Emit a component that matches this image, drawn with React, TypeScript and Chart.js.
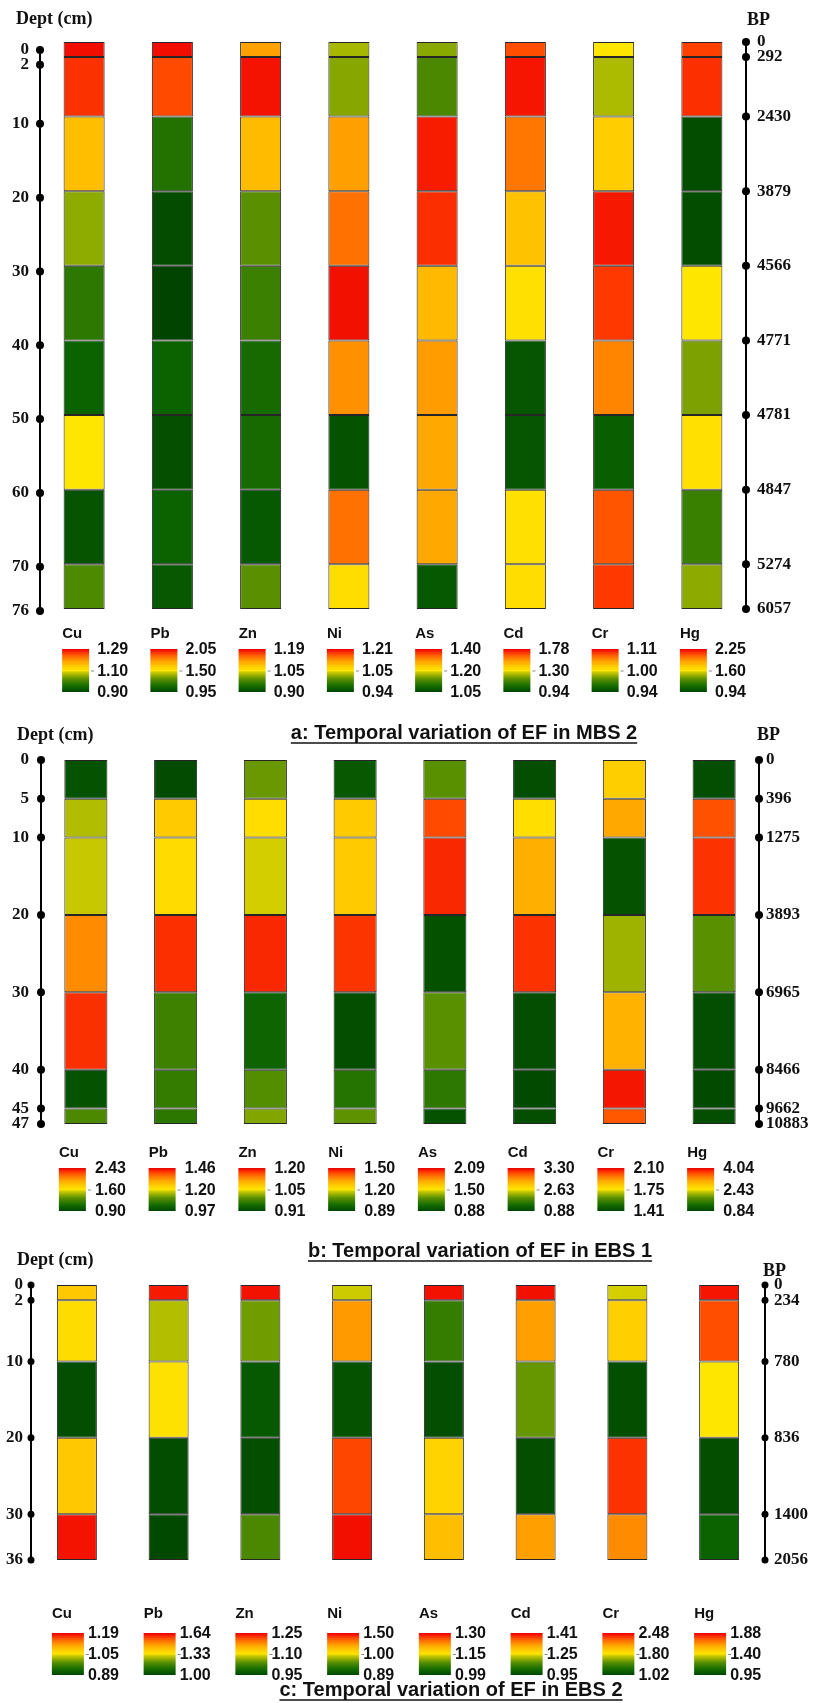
import React, { useEffect, useRef } from 'react';
import { Chart, registerables } from 'chart.js';

Chart.register(...registerables);

// Elements shown as columns in every core
const ELEMENTS = ['Cu', 'Pb', 'Zn', 'Ni', 'As', 'Cd', 'Cr', 'Hg'];

// ---- MBS 2 ----
const MBS2_DEPTH = [0, 2, 10, 20, 30, 40, 50, 60, 70, 76];
const MBS2_BP = ['0', '292', '2430', '3879', '4566', '4771', '4781', '4847', '5274', '6057'];
const MBS2_LOW = [0.9, 0.95, 0.9, 0.94, 1.05, 0.94, 0.94, 0.94];
const MBS2_MID = [1.1, 1.5, 1.05, 1.05, 1.2, 1.3, 1.0, 1.6];
const MBS2_HIGH = [1.29, 2.05, 1.19, 1.21, 1.4, 1.78, 1.11, 2.25];
// EF per element (rows) for each depth interval, top to bottom
const MBS2_EF = [
  [1.28, 1.26, 1.15, 1.05, 0.98, 0.94, 1.1, 0.92, 1.01], // Cu
  [2.02, 1.92, 1.14, 0.98, 0.95, 1.06, 0.99, 1.06, 1.02], // Pb
  [1.11, 1.18, 1.09, 0.99, 0.97, 0.94, 0.94, 0.92, 0.99], // Zn
  [1.03, 1.02, 1.12, 1.15, 1.2, 1.13, 0.95, 1.15, 1.06], // Ni
  [1.16, 1.13, 1.38, 1.37, 1.26, 1.29, 1.28, 1.28, 1.07], // As
  [1.66, 1.74, 1.59, 1.42, 1.32, 0.98, 0.98, 1.32, 1.33], // Cd
  [1.0, 0.99, 1.02, 1.1, 1.09, 1.06, 0.95, 1.08, 1.09], // Cr
  [2.12, 2.15, 0.98, 0.98, 1.6, 1.4, 1.63, 1.24, 1.43], // Hg
];

// ---- EBS 1 ----
const EBS1_DEPTH = [0, 5, 10, 20, 30, 40, 45, 47];
const EBS1_BP = ['0', '396', '1275', '3893', '6965', '8466', '9662', '10883'];
const EBS1_LOW = [0.9, 0.97, 0.91, 0.89, 0.88, 0.88, 1.41, 0.84];
const EBS1_MID = [1.6, 1.2, 1.05, 1.2, 1.5, 2.63, 1.75, 2.43];
const EBS1_HIGH = [2.43, 1.46, 1.2, 1.5, 2.09, 3.3, 2.1, 4.04];
const EBS1_EF = [
  [0.97, 1.49, 1.53, 2.03, 2.3, 0.97, 1.28], // Cu
  [0.98, 1.25, 1.22, 1.42, 1.08, 1.07, 1.06], // Pb
  [1.0, 1.06, 1.04, 1.18, 0.94, 0.99, 1.01], // Zn
  [0.93, 1.26, 1.26, 1.45, 0.91, 1.0, 1.08], // Ni
  [1.25, 1.95, 2.01, 0.93, 1.25, 1.13, 0.94], // As
  [0.99, 2.67, 2.87, 3.19, 0.99, 0.95, 0.99], // Cd
  [1.81, 1.89, 1.44, 1.68, 1.87, 2.07, 2.0], // Cr
  [0.94, 3.62, 3.78, 1.79, 0.94, 0.9, 0.94], // Hg
];

// ---- EBS 2 ----
const EBS2_DEPTH = [0, 2, 10, 20, 30, 36];
const EBS2_BP = ['0', '234', '780', '836', '1400', '2056'];
const EBS2_LOW = [0.89, 1.0, 0.95, 0.89, 0.99, 0.95, 1.02, 0.95];
const EBS2_MID = [1.05, 1.33, 1.1, 1.0, 1.15, 1.25, 1.8, 1.4];
const EBS2_HIGH = [1.19, 1.64, 1.25, 1.5, 1.3, 1.41, 2.48, 1.88];
const EBS2_EF = [
  [1.08, 1.06, 0.9, 1.08, 1.18], // Cu
  [1.61, 1.28, 1.34, 1.02, 1.01], // Pb
  [1.24, 1.05, 0.97, 0.96, 1.03], // Zn
  [0.99, 1.23, 0.9, 1.39, 1.47], // Ni
  [1.29, 1.06, 1.0, 1.17, 1.19], // As
  [1.4, 1.32, 1.14, 0.97, 1.32], // Cd
  [1.75, 1.91, 1.07, 2.37, 2.15], // Cr
  [1.84, 1.76, 1.4, 0.98, 1.04], // Hg
];

// green -> yellow -> red colour ramp (t = 0 at low, 0.5 at mid, 1 at high)
const RAMP: Array<[number, [number, number, number]]> = [
  [0, [0, 68, 0]],
  [0.1, [11, 99, 0]],
  [0.2, [44, 120, 0]],
  [0.3, [90, 144, 0]],
  [0.4, [160, 180, 0]],
  [0.47, [216, 208, 0]],
  [0.5, [255, 230, 0]],
  [0.6, [255, 202, 0]],
  [0.7, [255, 168, 0]],
  [0.8, [255, 120, 0]],
  [0.9, [255, 64, 0]],
  [0.96, [245, 20, 0]],
  [1, [232, 0, 0]],
];

function rampColor(t: number): string {
  const x = Math.max(0, Math.min(1, t));
  for (let k = 1; k < RAMP.length; k++) {
    const [t1, c1] = RAMP[k];
    const [t0, c0] = RAMP[k - 1];
    if (x <= t1) {
      const f = (x - t0) / (t1 - t0 || 1);
      const c = c0.map((v, i) => Math.round(v + (c1[i] - v) * f));
      return `rgb(${c[0]},${c[1]},${c[2]})`;
    }
  }
  const c = RAMP[RAMP.length - 1][1];
  return `rgb(${c[0]},${c[1]},${c[2]})`;
}

function efColor(v: number, lo: number, mid: number, hi: number): string {
  const t = v <= mid ? (0.5 * (v - lo)) / (mid - lo) : 0.5 + (0.5 * (v - mid)) / (hi - mid);
  return rampColor(t);
}

interface PanelLayout {
  top: number;
  height: number;
  areaTop: number;
  areaBottom: number;
  leftW: number;
  rightW: number;
  leftShiftTop: number; // px the depth ruler sits below the column tops
  leftShiftBottom: number;
  barPct: number;
  padL: number;
  padR: number;
  dotR: number;
  deptX: number;
  deptY: number;
  bpX: number;
  bpY: number;
  legLabelY: number;
  legBarTop: number;
  legBarH: number;
  legBarW: number;
  legOff: number;
  legTextDx: number;
  titleX: number;
  titleY: number;
  titleSize: number;
}

interface PanelDef {
  id: string;
  depth: number[];
  bp: string[];
  ef: number[][];
  low: number[];
  mid: number[];
  high: number[];
  title: string;
  layout: PanelLayout;
}

const PANELS: PanelDef[] = [
  {
    id: 'mbs2',
    depth: MBS2_DEPTH,
    bp: MBS2_BP,
    ef: MBS2_EF,
    low: MBS2_LOW,
    mid: MBS2_MID,
    high: MBS2_HIGH,
    title: 'a: Temporal variation of EF in MBS 2',
    layout: {
      top: 0, height: 748, areaTop: 42, areaBottom: 609, leftW: 40, rightW: 67,
      leftShiftTop: 8, leftShiftBottom: 2, barPct: 0.465,
      padL: 11, padR: 11, dotR: 4, deptX: 16, deptY: 19, bpX: 747, bpY: 20,
      legLabelY: 634, legBarTop: 649, legBarH: 43, legBarW: 27, legOff: -22, legTextDx: 35,
      titleX: 464, titleY: 739, titleSize: 20,
    },
  },
  {
    id: 'ebs1',
    depth: EBS1_DEPTH,
    bp: EBS1_BP,
    ef: EBS1_EF,
    low: EBS1_LOW,
    mid: EBS1_MID,
    high: EBS1_HIGH,
    title: 'b: Temporal variation of EF in EBS 1',
    layout: {
      top: 722, height: 545, areaTop: 760, areaBottom: 1124, leftW: 41, rightW: 54,
      leftShiftTop: 0, leftShiftBottom: 0, barPct: 0.48,
      padL: 12, padR: 7, dotR: 4, deptX: 17, deptY: 735, bpX: 757, bpY: 735,
      legLabelY: 1153, legBarTop: 1168, legBarH: 43, legBarW: 27, legOff: -27, legTextDx: 36,
      titleX: 480, titleY: 1257, titleSize: 20,
    },
  },
  {
    id: 'ebs2',
    depth: EBS2_DEPTH,
    bp: EBS2_BP,
    ef: EBS2_EF,
    low: EBS2_LOW,
    mid: EBS2_MID,
    high: EBS2_HIGH,
    title: 'c: Temporal variation of EF in EBS 2',
    layout: {
      top: 1248, height: 455, areaTop: 1285, areaBottom: 1560, leftW: 31, rightW: 48,
      leftShiftTop: 0, leftShiftBottom: 0, barPct: 0.436,
      padL: 8, padR: 9, dotR: 3.5, deptX: 17, deptY: 1260, bpX: 763, bpY: 1271,
      legLabelY: 1614, legBarTop: 1633, legBarH: 42, legBarW: 32, legOff: -25, legTextDx: 36,
      titleX: 451, titleY: 1696, titleSize: 20,
    },
  },
];

const SERIF = '"Liberation Serif", "Times New Roman", serif';
const SANS = '"Liberation Sans", Arial, sans-serif';

// Draws axis rulers with dots, headers, colour-scale legends and the panel title
function decorPlugin(p: PanelDef) {
  const L = p.layout;
  return {
    id: 'decor-' + p.id,
    afterDraw(chart: any) {
      const ctx: CanvasRenderingContext2D = chart.ctx;
      const oy = L.top;
      ctx.save();

      // depth rulers: line from first to last tick, a dot on every tick
      ctx.fillStyle = '#000';
      ctx.strokeStyle = '#000';
      ctx.lineWidth = 2;
      const yl = chart.scales.y;
      const yr = chart.scales.yBP;
      [
        [yl, Math.round(yl.right)],
        [yr, Math.round(yr.left)],
      ].forEach(([s, x]: any) => {
        const px = s.ticks.map((t: any) => s.getPixelForValue(t.value));
        ctx.beginPath();
        ctx.moveTo(x, px[0]);
        ctx.lineTo(x, px[px.length - 1]);
        ctx.stroke();
        px.forEach((py: number) => {
          ctx.beginPath();
          ctx.arc(x, py, L.dotR, 0, Math.PI * 2);
          ctx.fill();
        });
      });

      // axis headers
      ctx.fillStyle = '#111';
      ctx.textBaseline = 'middle';
      ctx.textAlign = 'left';
      ctx.font = `bold 18px ${SERIF}`;
      ctx.fillText('Dept (cm)', L.deptX, L.deptY - oy);
      ctx.fillText('BP', L.bpX, L.bpY - oy);

      // colour-scale legends under each column
      const xs = chart.scales.x;
      ELEMENTS.forEach((el, i) => {
        const x0 = xs.getPixelForValue(i) + L.legOff;
        const top = L.legBarTop - oy;
        const grad = ctx.createLinearGradient(0, top, 0, top + L.legBarH);
        RAMP.forEach(([t, c]) => grad.addColorStop(1 - t, `rgb(${c[0]},${c[1]},${c[2]})`));
        ctx.fillStyle = grad;
        ctx.fillRect(x0, top, L.legBarW, L.legBarH);

        ctx.fillStyle = '#111';
        ctx.textAlign = 'left';
        ctx.textBaseline = 'middle';
        ctx.font = `bold 15px ${SANS}`;
        ctx.fillText(el, x0, L.legLabelY - oy);

        ctx.strokeStyle = '#888';
        ctx.lineWidth = 1;
        ctx.beginPath();
        ctx.moveTo(x0 + L.legBarW + 2, top + L.legBarH / 2 + 0.5);
        ctx.lineTo(x0 + L.legBarW + 5, top + L.legBarH / 2 + 0.5);
        ctx.stroke();

        ctx.font = `bold 16px ${SANS}`;
        const tx = x0 + L.legTextDx;
        ctx.fillText(p.high[i].toFixed(2), tx, top + 1);
        ctx.fillText(p.mid[i].toFixed(2), tx, top + L.legBarH / 2 + 1);
        ctx.fillText(p.low[i].toFixed(2), tx, top + L.legBarH + 1);
      });

      // underlined title
      ctx.font = `bold ${L.titleSize}px ${SANS}`;
      ctx.textAlign = 'center';
      ctx.textBaseline = 'alphabetic';
      ctx.fillStyle = '#111';
      const ty = L.titleY - oy;
      ctx.fillText(p.title, L.titleX, ty);
      const w = ctx.measureText(p.title).width;
      ctx.strokeStyle = '#111';
      ctx.lineWidth = 1.6;
      ctx.beginPath();
      ctx.moveTo(L.titleX - w / 2, ty + 4);
      ctx.lineTo(L.titleX + w / 2, ty + 4);
      ctx.stroke();

      ctx.restore();
    },
  };
}

function buildChart(canvas: HTMLCanvasElement, p: PanelDef) {
  const L = p.layout;
  const segCount = p.depth.length - 1;
  const maxDepth = p.depth[segCount];
  const datasets: any[] = [];
  for (let j = 0; j < segCount; j++) {
    datasets.push({
      label: `${p.depth[j]}-${p.depth[j + 1]} cm`,
      data: ELEMENTS.map(() => [p.depth[j], p.depth[j + 1]]),
      backgroundColor: ELEMENTS.map((_, i) => efColor(p.ef[i][j], p.low[i], p.mid[i], p.high[i])),
      borderColor: '#262626',
      borderWidth: 1,
      borderSkipped: false,
      inflateAmount: 0,
      grouped: false,
      yAxisID: 'yBP',
      barPercentage: L.barPct,
      categoryPercentage: 1,
    });
  }

  // left depth ruler may sit slightly lower than the columns
  const areaH = L.areaBottom - L.areaTop;
  const spanPx = areaH - L.leftShiftTop + L.leftShiftBottom;
  const unitsPerPx = maxDepth / spanPx;
  const leftMin = -L.leftShiftTop * unitsPerPx;
  const leftMax = maxDepth + (areaH - (L.leftShiftTop + spanPx)) * unitsPerPx;

  const setTicks = (scale: any) => {
    scale.ticks = p.depth.map((value) => ({ value }));
  };

  const tickFont = { family: SERIF, size: 17, weight: 'bold' };

  return new Chart(canvas, {
    type: 'bar',
    data: { labels: ELEMENTS, datasets },
    options: {
      animation: false,
      responsive: false,
      maintainAspectRatio: false,
      events: [],
      layout: {
        padding: {
          top: L.areaTop - L.top,
          bottom: L.top + L.height - L.areaBottom,
          left: 0,
          right: 0,
        },
      },
      plugins: {
        legend: { display: false },
        tooltip: { enabled: false },
      },
      scales: {
        x: {
          type: 'category',
          display: false,
          offset: true,
          grid: { display: false },
        },
        y: {
          type: 'linear',
          position: 'left',
          reverse: true,
          min: leftMin,
          max: leftMax,
          afterBuildTicks: setTicks,
          afterFit: (s: any) => {
            s.width = L.leftW;
          },
          grid: { display: false, drawTicks: false },
          border: { display: false },
          ticks: {
            autoSkip: false,
            padding: L.padL,
            color: '#111',
            font: tickFont,
          },
        },
        yBP: {
          type: 'linear',
          position: 'right',
          reverse: true,
          min: 0,
          max: maxDepth,
          afterBuildTicks: setTicks,
          afterFit: (s: any) => {
            s.width = L.rightW;
          },
          grid: { display: false, drawTicks: false },
          border: { display: false },
          ticks: {
            autoSkip: false,
            padding: L.padR,
            color: '#111',
            font: tickFont,
            callback: (_v: any, index: number) => p.bp[index],
          },
        },
      },
    } as any,
    plugins: [decorPlugin(p)],
  });
}

function CorePanel({ panel }: { panel: PanelDef }) {
  const ref = useRef<HTMLCanvasElement | null>(null);
  useEffect(() => {
    if (!ref.current) return;
    const chart = buildChart(ref.current, panel);
    return () => chart.destroy();
  }, [panel]);
  const L = panel.layout;
  return (
    <canvas
      ref={ref}
      width={813}
      height={L.height}
      style={{ position: 'absolute', left: 0, top: L.top, width: 813, height: L.height, display: 'block' }}
    />
  );
}

export default function App() {
  return (
    <div
      style={{
        position: 'absolute',
        left: 0,
        top: 0,
        width: 813,
        height: 1703,
        background: '#ffffff',
        overflow: 'hidden',
      }}
    >
      {PANELS.map((p) => (
        <CorePanel key={p.id} panel={p} />
      ))}
    </div>
  );
}
